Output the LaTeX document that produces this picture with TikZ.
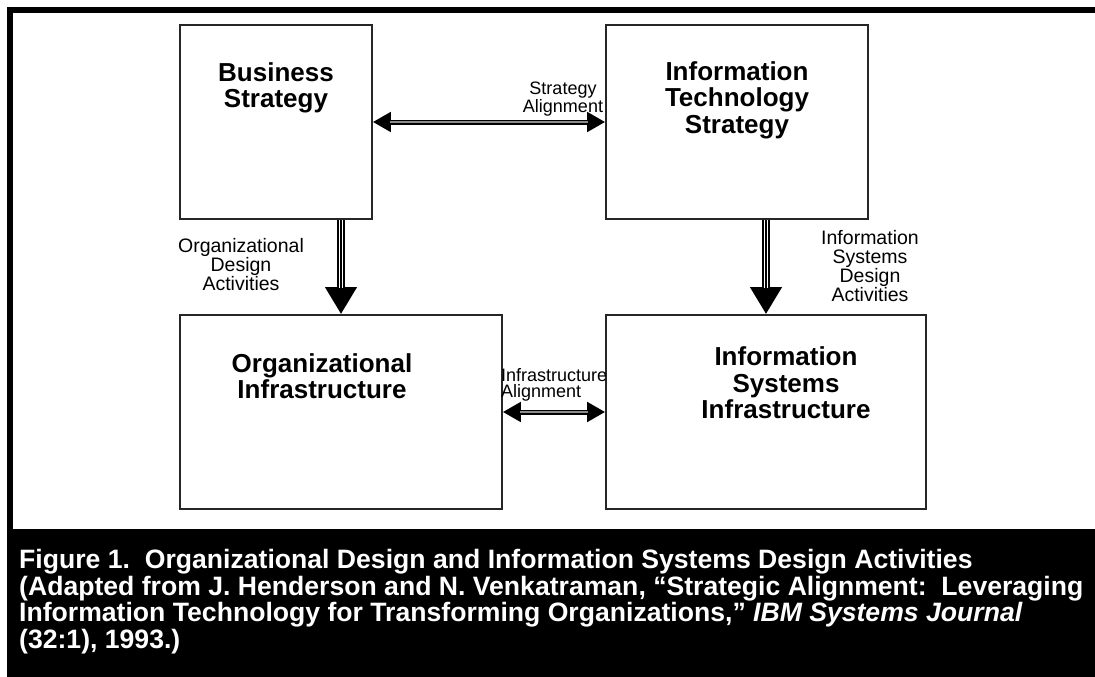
\documentclass[tikz,border=0pt]{standalone}
\usepackage{fontspec}
\setmainfont{Liberation Sans}
\usetikzlibrary{arrows.meta,positioning,calc}

\tikzset{
  box/.style={draw=black!85, line width=1.6pt, rectangle, inner sep=0pt},
  boxtext/.style={font=\bfseries\fontsize{26}{26.5}\selectfont, align=center, inner sep=0pt},
  smalltext/.style={font=\fontsize{18}{16}\selectfont, align=center, inner sep=0pt},
  designtext/.style={font=\fontsize{19.5}{19}\selectfont, align=center, inner sep=0pt},
  downarrow/.style={line width=8.3pt, -{Triangle[length=27pt 0 0,width=30pt 0 0]},
    postaction={draw=white, line width=4.9pt, shorten >=26pt, -},
    postaction={draw=black, line width=1.7pt, shorten >=26pt, -}},
  sidearrow/.style={line width=5pt,
    {Triangle[length=18pt 0 0,width=19pt 0 0]}-{Triangle[length=18pt 0 0,width=19pt 0 0]},
    postaction={draw=black!45, line width=1.4pt, shorten <=17pt, shorten >=17pt, -}}
}

\begin{document}
\begin{tikzpicture}[x=1pt,y=-1pt]
    \useasboundingbox (0,0) rectangle (1095,677);

    % Frame and caption band
    \fill (7,7) rectangle (1095,13);
    \fill (7,7) rectangle (13,529);
    \fill (7,529) rectangle (1095,677);

    % Boxes
    \node[box, minimum width=192pt, minimum height=194pt] (bs) at (276,122) {};
    \node[box, minimum width=262pt, minimum height=194pt] (its) at (737,122) {};
    \node[box, minimum width=322pt, minimum height=194pt] (oi) at (341,412) {};
    \node[box, minimum width=320pt, minimum height=194pt] (isi) at (766,412) {};

    \node[boxtext] (bstext) at (276,88) {Business\\Strategy};
    \node[boxtext] (itstext) at (737,100) {Information\\Technology\\Strategy};
    \node[boxtext] (oitext) at (322,376) {Organizational\\Infrastructure};
    \node[boxtext] (isitext) at (786,383) {Information\\Systems\\Infrastructure};

    % Alignment arrows
    \draw[sidearrow] (bs.east) -- (its.west);
    \draw[sidearrow] (oi.east) -- (isi.west);
    \node[smalltext] (stratlabel) at (563,99) {Strategy\\Alignment};
    \node[smalltext, align=left, anchor=west] (infralabel) at (501,385) {Infrastructure\\Alignment};

    % Design arrows
    \draw[downarrow] (bs.south -| oi.north) -- (oi.north);
    \draw[downarrow] (its.south -| isi.north) -- (isi.north);
    \node[designtext] (orglabel) at (241,265) {Organizational\\Design\\Activities};
    \node[designtext] (islabel) at (870,266) {Information\\Systems\\Design\\Activities};

    % Caption
    \node[anchor=north west, text=white, align=left, inner sep=0pt,
          font=\bfseries\fontsize{26.6}{26.7}\selectfont] (caption) at (19,549)
      {Figure 1.\ \ Organizational Design and Information Systems Design Activities\\
       (Adapted from J. Henderson and N. Venkatraman, “Strategic Alignment:\ \ Leveraging\\
       Information Technology for Transforming Organizations,” \textit{IBM Systems Journal}\\
       (32:1), 1993.)};
\end{tikzpicture}
\end{document}
